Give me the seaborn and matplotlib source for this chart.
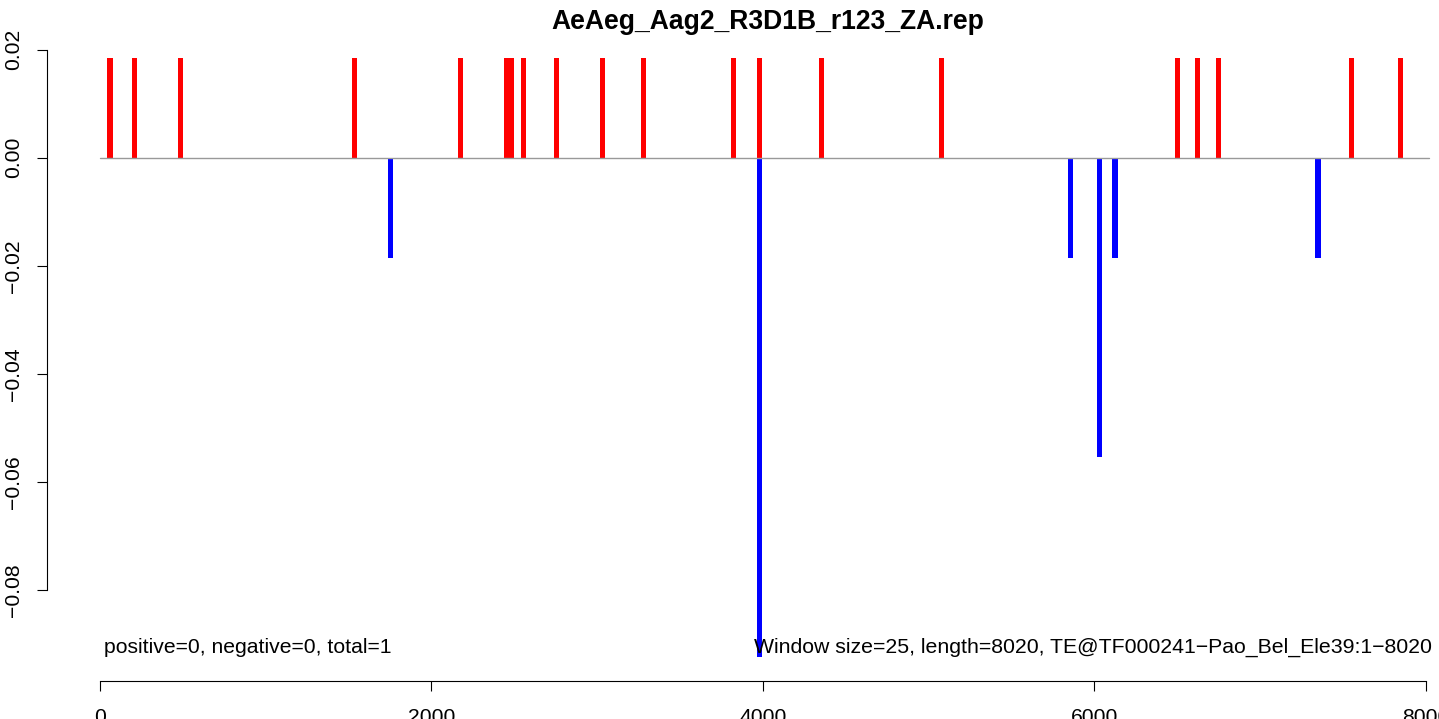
# Strand bias plot of a TE: red = plus strand hits, blue = minus strand hits
import pandas as pd
import numpy as np
import matplotlib
matplotlib.use("Agg")
import matplotlib.pyplot as plt
import seaborn as sns

# positions (bp) and heights
unit = 0.0185
pos_plus = [60, 210, 485, 1535, 2175, 2455, 2485, 2555, 2755, 3030, 3280,
            3825, 3980, 4355, 5080, 6500, 6625, 6750, 7550, 7850]
val_plus = [1] * len(pos_plus)
pos_minus = [1755, 3980, 5855, 6030, 6125, 7350]
val_minus = [-1, -5, -1, -3, -1, -1]

title = "AeAeg_Aag2_R3D1B_r123_ZA.rep"
left_note = "positive=0, negative=0, total=1"
right_note = "Window size=25, length=8020, TE@TF000241\u2212Pao_Bel_Ele39:1\u22128020"
te_length = 8020
yticks = [0.02, 0.00, -0.02, -0.04, -0.06, -0.08]
ytick_labels = ["0.02", "0.00", "\u22120.02", "\u22120.04", "\u22120.06", "\u22120.08"]
xticks = [0, 2000, 4000, 6000, 8000]

sns.set_style("ticks", {"axes.edgecolor": "black", "xtick.color": "black",
                        "ytick.color": "black", "text.color": "black",
                        "axes.labelcolor": "black"})
plt.rcParams['font.family'] = ['Liberation Sans', 'DejaVu Sans']

df = pd.DataFrame({
    "pos": pos_plus + pos_minus,
    "score": np.array(val_plus + val_minus) * unit,
    "strand": ["+"] * len(pos_plus) + ["-"] * len(pos_minus),
})

fig = plt.figure(figsize=(14.39, 7.19), dpi=100)
ax = fig.add_axes([47 / 1439, 38 / 719, 1435 / 1439, 647 / 719])

min_gap = np.diff(np.sort(df["pos"].unique())).min()
sns.barplot(data=df, x="pos", y="score", hue="strand", native_scale=True,
            dodge=False, errorbar=None, palette={"+": "#FF0000", "-": "#0000FF"},
            width=31 / min_gap, saturation=1, linewidth=0, legend=False, ax=ax)

ax.plot([0, te_length], [0, 0], color="#999999", lw=1, zorder=1)

ax.set_xlim(-320, 8340)
ax.set_ylim(-0.0969, 0.0229)
ax.set_xticks(xticks)
ax.set_xticklabels([str(x) for x in xticks])
ax.set_yticks(yticks)
ax.set_yticklabels(ytick_labels, rotation=90, va="center")
ax.tick_params(axis="both", length=7.2, width=0.8, labelsize=15.2,
               color="black", labelcolor="black")
ax.tick_params(axis="x", pad=12)
ax.tick_params(axis="y", pad=10)
ax.set_xlabel("")
ax.set_ylabel("")
for s in ["top", "right"]:
    ax.spines[s].set_visible(False)
ax.spines["left"].set_bounds(-0.08, 0.02)
ax.spines["bottom"].set_bounds(0, 8000)
for s in ["left", "bottom"]:
    ax.spines[s].set_linewidth(0.8)
    ax.spines[s].set_color("black")

ax.text(25, -0.0907, left_note, ha="left", va="center", fontsize=15.2, color="black")
ax.text(8036, -0.0907, right_note, ha="right", va="center", fontsize=15.3, color="black")
fig.text(768 / 1439, 1 - 22 / 719, title, ha="center", va="center",
         fontsize=19.1, fontweight="bold", color="black")

fig.savefig("out.png", dpi=100)
